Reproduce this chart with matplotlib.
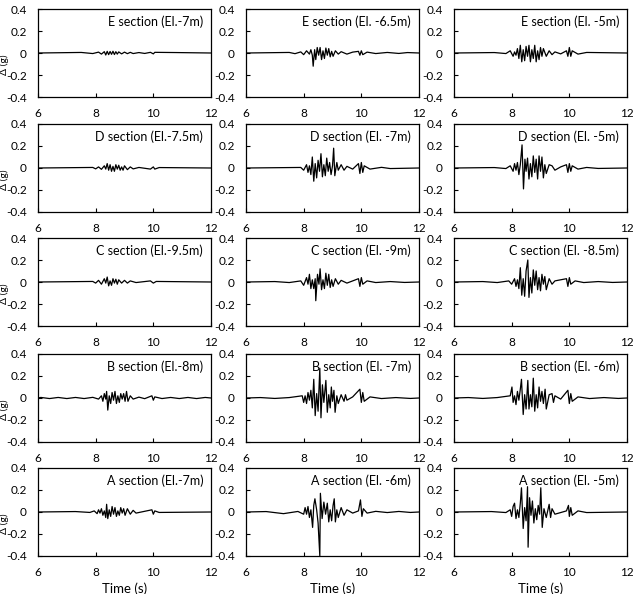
import matplotlib.pyplot as plt

plt.rcParams['font.family'] = ['Lato', 'DejaVu Sans']

# ---- data: spike times (s) and peak acceleration (g) ----
t_E1 = [7.5, 7.9, 8.1, 8.2, 8.3, 8.35, 8.4, 8.45, 8.5, 8.55, 8.6, 8.65, 8.7, 8.75, 8.8, 8.9, 9.0, 9.1, 9.2, 9.3, 9.5, 9.7, 9.9, 10.0, 10.05, 10.8]
a_E1 = [0.005, -0.005, 0.008, -0.01, 0.012, -0.018, 0.015, -0.015, 0.014, -0.012, 0.016, -0.014, 0.012, -0.01, 0.01, -0.008, 0.008, -0.006, 0.006, -0.005, 0.004, -0.004, 0.006, -0.008, 0.006, 0.004]

t_E2 = [7.5, 7.7, 7.9, 8.0, 8.1, 8.2, 8.25, 8.3, 8.33, 8.38, 8.42, 8.47, 8.52, 8.57, 8.62, 8.67, 8.72, 8.77, 8.82, 8.87, 8.92, 8.97, 9.02, 9.1, 9.2, 9.3, 9.5, 9.7, 9.9, 9.95, 10.0, 10.05, 10.2, 10.5, 10.9, 11.3, 11.6]
a_E2 = [0.005, -0.006, 0.01, -0.015, 0.02, -0.01, 0.03, -0.02, -0.12, 0.03, -0.06, 0.05, -0.02, 0.05, -0.06, 0.02, -0.05, 0.045, -0.02, 0.04, -0.035, 0.015, -0.03, 0.02, -0.01, 0.012, -0.01, 0.008, 0.015, -0.02, 0.02, -0.015, 0.008, -0.005, 0.005, -0.004, 0.004]

t_E3 = [7.4, 7.8, 7.95, 8.05, 8.1, 8.15, 8.2, 8.25, 8.3, 8.35, 8.4, 8.45, 8.5, 8.55, 8.6, 8.65, 8.7, 8.75, 8.8, 8.85, 8.9, 8.95, 9.0, 9.05, 9.1, 9.2, 9.3, 9.4, 9.5, 9.7, 9.9, 9.95, 10.0, 10.05, 10.1, 10.3, 10.6]
a_E3 = [0.004, -0.005, 0.02, -0.03, 0.01, -0.02, 0.04, -0.05, 0.07, -0.08, 0.03, -0.07, 0.06, -0.03, 0.07, -0.08, 0.03, -0.05, 0.07, -0.08, 0.02, -0.06, 0.05, -0.03, 0.04, -0.03, 0.02, -0.015, 0.01, -0.008, 0.02, -0.03, 0.05, -0.03, 0.02, -0.01, 0.005]

t_D1 = [7.9, 8.0, 8.1, 8.2, 8.3, 8.35, 8.4, 8.45, 8.5, 8.55, 8.6, 8.65, 8.7, 8.75, 8.8, 8.85, 8.9, 8.95, 9.0, 9.1, 9.2, 9.3, 9.5, 9.9, 10.0, 10.05, 10.2]
a_D1 = [0.005, -0.008, 0.01, -0.012, 0.02, -0.01, 0.04, -0.02, 0.03, -0.03, 0.015, -0.03, 0.03, -0.01, 0.025, -0.02, 0.01, -0.02, 0.02, -0.015, 0.01, -0.008, 0.005, -0.01, 0.01, -0.01, 0.004]

t_D2 = [7.9, 8.0, 8.1, 8.15, 8.2, 8.25, 8.3, 8.35, 8.4, 8.45, 8.5, 8.55, 8.6, 8.65, 8.7, 8.75, 8.8, 8.85, 8.9, 8.95, 9.0, 9.04, 9.08, 9.15, 9.2, 9.3, 9.4, 9.5, 9.7, 9.9, 9.95, 10.0, 10.05, 10.1, 10.3, 10.7, 11.0]
a_D2 = [0.005, -0.02, 0.03, -0.04, 0.02, -0.06, 0.1, -0.12, 0.04, -0.09, 0.07, -0.03, 0.13, -0.08, 0.03, -0.07, 0.09, -0.03, 0.05, -0.06, 0.02, 0.18, -0.07, 0.05, -0.02, 0.03, -0.02, 0.015, -0.01, 0.04, -0.05, 0.05, -0.04, 0.02, -0.01, 0.006, -0.005]

t_D3 = [7.4, 7.8, 7.95, 8.05, 8.1, 8.15, 8.2, 8.25, 8.3, 8.36, 8.41, 8.46, 8.5, 8.55, 8.6, 8.65, 8.7, 8.75, 8.8, 8.85, 8.9, 8.95, 9.0, 9.05, 9.1, 9.15, 9.2, 9.3, 9.4, 9.5, 9.7, 9.9, 9.95, 10.0, 10.05, 10.1, 10.3, 10.6, 11.0]
a_D3 = [0.004, -0.005, 0.02, -0.03, 0.04, -0.02, 0.05, -0.06, 0.03, 0.21, -0.19, 0.08, -0.03, 0.09, -0.1, 0.04, -0.08, 0.11, -0.04, 0.08, -0.1, 0.11, -0.03, 0.1, -0.09, 0.03, -0.05, 0.03, 0.02, -0.02, 0.01, 0.03, -0.04, 0.04, -0.03, 0.02, -0.01, 0.005, -0.004]

t_C1 = [7.9, 8.0, 8.1, 8.2, 8.3, 8.35, 8.4, 8.45, 8.5, 8.55, 8.6, 8.65, 8.7, 8.75, 8.8, 8.9, 9.0, 9.1, 9.2, 9.4, 9.9, 10.0, 10.1]
a_C1 = [0.005, -0.01, 0.015, -0.02, 0.03, -0.01, 0.045, -0.035, 0.01, -0.03, 0.03, -0.01, 0.025, -0.02, 0.02, -0.01, 0.015, -0.01, 0.01, -0.005, 0.01, -0.01, 0.005]

t_C2 = [7.0, 7.5, 7.9, 8.0, 8.1, 8.15, 8.2, 8.25, 8.3, 8.35, 8.4, 8.42, 8.48, 8.53, 8.57, 8.62, 8.67, 8.72, 8.77, 8.82, 8.87, 8.92, 8.97, 9.02, 9.1, 9.2, 9.3, 9.5, 9.9, 9.95, 10.0, 10.05, 10.2, 10.5, 11.0, 11.5]
a_C2 = [0.004, -0.005, 0.01, -0.03, 0.04, -0.02, 0.07, -0.06, 0.02, -0.06, 0.03, -0.17, 0.07, -0.02, 0.12, -0.07, 0.02, -0.06, 0.08, -0.03, 0.07, -0.05, 0.02, -0.04, 0.03, -0.02, 0.015, -0.01, 0.03, -0.04, 0.04, -0.02, 0.01, -0.005, 0.004, -0.004]

t_C3 = [7.0, 7.5, 7.9, 8.0, 8.1, 8.15, 8.2, 8.25, 8.3, 8.35, 8.4, 8.45, 8.5, 8.56, 8.6, 8.65, 8.7, 8.75, 8.8, 8.85, 8.9, 8.95, 9.0, 9.05, 9.1, 9.15, 9.2, 9.3, 9.4, 9.5, 9.9, 9.95, 10.0, 10.05, 10.2, 10.5, 11.0, 11.5]
a_C3 = [0.004, -0.005, 0.01, -0.02, 0.03, -0.04, 0.02, -0.06, 0.13, -0.12, 0.03, -0.13, 0.1, 0.2, -0.14, 0.04, -0.1, 0.11, -0.03, 0.1, -0.07, 0.04, -0.08, 0.07, -0.02, 0.05, -0.07, 0.03, -0.02, 0.01, 0.03, -0.04, 0.04, -0.02, 0.01, -0.005, 0.004, -0.004]

t_B1 = [6.1, 6.4, 6.7, 7.0, 7.3, 7.6, 7.9, 8.1, 8.2, 8.25, 8.3, 8.35, 8.38, 8.42, 8.47, 8.52, 8.57, 8.62, 8.67, 8.72, 8.77, 8.82, 8.87, 8.92, 8.97, 9.02, 9.07, 9.12, 9.2, 9.3, 9.5, 9.7, 9.95, 10.0, 10.05, 10.3, 10.6, 10.9, 11.2, 11.5, 11.8]
a_B1 = [0.005, -0.005, 0.005, -0.005, 0.005, -0.005, 0.006, -0.01, 0.02, -0.03, 0.04, -0.01, 0.06, -0.11, 0.02, -0.05, 0.05, -0.02, 0.06, -0.05, 0.02, -0.04, 0.04, -0.01, 0.04, -0.03, 0.06, -0.03, 0.02, -0.01, 0.008, -0.006, 0.02, -0.02, 0.01, -0.005, 0.005, -0.005, 0.005, -0.005, 0.005]

t_B2 = [6.5, 7.0, 7.5, 7.95, 8.0, 8.05, 8.1, 8.15, 8.2, 8.25, 8.3, 8.35, 8.4, 8.45, 8.5, 8.56, 8.6, 8.65, 8.7, 8.77, 8.82, 8.87, 8.92, 8.96, 9.0, 9.05, 9.09, 9.15, 9.2, 9.3, 9.4, 9.45, 9.5, 9.7, 9.95, 10.0, 10.05, 10.1, 10.3, 10.7, 11.2, 11.7]
a_B2 = [0.004, -0.004, 0.004, 0.02, -0.04, 0.02, -0.05, 0.05, -0.02, 0.07, -0.09, 0.17, -0.16, 0.04, -0.12, 0.27, -0.18, 0.12, -0.04, 0.16, -0.13, 0.03, -0.09, 0.1, -0.03, 0.07, -0.13, 0.02, -0.05, 0.03, -0.03, 0.03, -0.02, 0.01, 0.08, -0.04, 0.05, -0.03, 0.01, -0.005, 0.004, -0.004]

t_B3 = [6.5, 7.0, 7.5, 7.95, 8.01, 8.05, 8.1, 8.15, 8.2, 8.25, 8.3, 8.34, 8.4, 8.45, 8.5, 8.56, 8.6, 8.65, 8.7, 8.75, 8.8, 8.85, 8.9, 8.95, 9.0, 9.05, 9.1, 9.16, 9.2, 9.3, 9.4, 9.45, 9.5, 9.7, 9.95, 10.0, 10.05, 10.1, 10.3, 10.7, 11.2, 11.7]
a_B3 = [0.004, -0.004, 0.004, 0.02, 0.1, -0.04, 0.02, -0.06, 0.06, -0.02, 0.08, 0.17, -0.15, 0.03, -0.1, 0.16, -0.1, 0.03, -0.08, 0.18, -0.12, 0.03, -0.09, 0.1, -0.03, 0.06, -0.05, 0.08, -0.1, 0.03, 0.04, -0.04, 0.02, -0.01, 0.07, -0.05, 0.04, -0.03, 0.01, -0.005, 0.004, -0.004]

t_A1 = [7.3, 7.8, 7.95, 8.05, 8.1, 8.15, 8.2, 8.25, 8.3, 8.35, 8.38, 8.42, 8.47, 8.52, 8.57, 8.62, 8.67, 8.72, 8.77, 8.82, 8.87, 8.92, 8.97, 9.02, 9.1, 9.2, 9.3, 9.4, 9.95, 10.0, 10.05, 10.2]
a_A1 = [0.004, -0.004, 0.01, -0.015, 0.02, -0.01, 0.03, -0.03, 0.01, -0.05, 0.07, -0.06, 0.02, -0.04, 0.05, -0.02, 0.04, -0.04, 0.01, -0.03, 0.04, -0.01, 0.03, -0.03, 0.03, -0.02, 0.015, -0.01, 0.02, -0.02, 0.01, -0.004]

t_A2 = [6.7, 7.3, 7.8, 8.0, 8.05, 8.1, 8.15, 8.2, 8.25, 8.31, 8.35, 8.39, 8.45, 8.5, 8.56, 8.58, 8.64, 8.7, 8.76, 8.82, 8.87, 8.92, 8.97, 9.02, 9.06, 9.1, 9.15, 9.2, 9.3, 9.4, 9.5, 9.7, 9.9, 9.97, 10.02, 10.07, 10.2, 10.5, 10.9, 11.3, 11.7]
a_A2 = [0.004, -0.015, 0.005, -0.02, 0.04, -0.02, 0.05, -0.05, 0.02, -0.14, 0.06, 0.12, 0.02, -0.1, -0.4, 0.17, -0.06, 0.09, -0.02, 0.08, -0.09, 0.02, -0.08, 0.06, 0.12, -0.09, 0.02, -0.05, 0.04, -0.03, 0.02, -0.01, 0.01, 0.11, -0.04, 0.03, -0.01, 0.006, -0.005, 0.005, -0.004]

t_A3 = [7.3, 7.8, 7.95, 8.0, 8.05, 8.1, 8.15, 8.2, 8.25, 8.3, 8.34, 8.4, 8.45, 8.5, 8.55, 8.57, 8.62, 8.67, 8.72, 8.77, 8.82, 8.87, 8.92, 8.97, 9.01, 9.06, 9.12, 9.2, 9.3, 9.35, 9.4, 9.5, 9.9, 9.97, 10.0, 10.05, 10.1, 10.3, 10.6]
a_A3 = [0.004, -0.005, 0.02, -0.04, 0.05, 0.08, -0.06, 0.02, -0.05, 0.08, 0.22, -0.15, 0.04, -0.08, 0.23, -0.32, 0.13, -0.03, 0.1, -0.1, 0.03, -0.07, 0.06, -0.02, 0.22, -0.14, 0.03, -0.05, 0.07, -0.05, 0.03, -0.02, 0.01, 0.06, -0.04, 0.04, -0.03, 0.01, -0.005]

titles = [
    ["E section (El.-7m)", "E section (El. -6.5m)", "E section (El. -5m)"],
    ["D section (El.-7.5m)", "D section (El. -7m)", "D section (El. -5m)"],
    ["C section (El.-9.5m)", "C section (El. -9m)", "C section (El. -8.5m)"],
    ["B section (El.-8m)", "B section (El. -7m)", "B section (El. -6m)"],
    ["A section (El.-7m)", "A section (El. -6m)", "A section (El. -5m)"],
]
series = [
    [(t_E1, a_E1), (t_E2, a_E2), (t_E3, a_E3)],
    [(t_D1, a_D1), (t_D2, a_D2), (t_D3, a_D3)],
    [(t_C1, a_C1), (t_C2, a_C2), (t_C3, a_C3)],
    [(t_B1, a_B1), (t_B2, a_B2), (t_B3, a_B3)],
    [(t_A1, a_A1), (t_A2, a_A2), (t_A3, a_A3)],
]

W, H = 637, 594
fig = plt.figure(figsize=(W / 100, H / 100), dpi=100)

col_left = [38, 246, 454]
row_top = [9, 124, 238, 354, 468]
ax_w, ax_h = 173, 88

for r in range(5):
    for c in range(3):
        ax = fig.add_axes([col_left[c] / W, 1 - (row_top[r] + ax_h) / H,
                           ax_w / W, ax_h / H])
        t, a = series[r][c]
        ax.plot([6] + t + [12], [0] + a + [0], color='black', lw=0.9)
        ax.set_xlim(6, 12)
        ax.set_ylim(-0.4, 0.4)
        ax.set_xticks([6, 8, 10, 12])
        ax.set_yticks([-0.4, -0.2, 0, 0.2, 0.4])
        ax.set_yticklabels(['-0.4', '-0.2', '0', '0.2', '0.4'])
        ax.tick_params(direction='in', length=3, width=0.8,
                       labelsize=8.5, pad=8)
        for s in ax.spines.values():
            s.set_linewidth(0.9)
        ax.text(0.955, 0.85, titles[r][c], transform=ax.transAxes,
                ha='right', va='center', fontsize=9)
        if c == 0:
            ax.set_ylabel('Δ (g)', fontsize=7.5)
            ax.yaxis.set_label_coords(-0.17, 0.37)
        if r == 4:
            ax.set_xlabel('Time (s)', fontsize=9.5, labelpad=3)

fig.savefig('out.png', dpi=100)
